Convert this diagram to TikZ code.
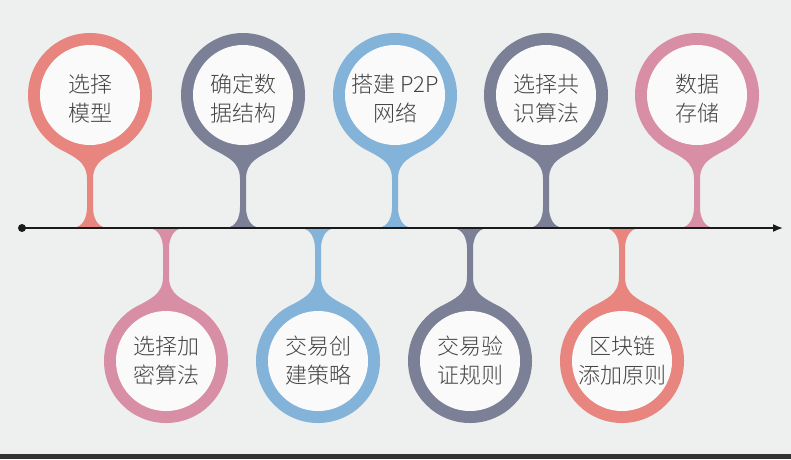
\documentclass[tikz,border=0pt]{standalone}
\usepackage{fontspec}
\newfontfamily\cjk{Noto Sans CJK SC}[UprightFont={* Light}]
\usetikzlibrary{arrows.meta}
\definecolor{bgcol}{HTML}{EEEFEF}
\definecolor{cSalmon}{HTML}{E8857F}
\definecolor{cSlate}{HTML}{7B8096}
\definecolor{cBlue}{HTML}{84B3DA}
\definecolor{cMauve}{HTML}{D88FA6}
\definecolor{holecol}{HTML}{FAFAFA}
\definecolor{txtcol}{HTML}{444444}
\definecolor{linecol}{HTML}{1A1A1A}
\definecolor{barcol}{HTML}{333333}
\newcommand\pinstem[1]{\fill[#1] (-26,56) .. controls (-17,62) and (-3,66) .. (-3,84) -- (-3,112) .. controls (-3,124) and (-8,131) .. (-15,133) -- (15,133) .. controls (8,131) and (3,124) .. (3,112) -- (3,84) .. controls (3,66) and (17,62) .. (26,56) -- cycle;}
\begin{document}
\begin{tikzpicture}[x=1pt,y=-1pt,
  ring/.style={circle,inner sep=0pt,minimum size=124pt,fill=#1},
  hole/.style={circle,inner sep=0pt,minimum size=100pt,fill=holecol},
  lbl/.style={align=center,font={\cjk\fontsize{22}{29}\selectfont},text=txtcol,inner sep=0pt}]
\fill[bgcol] (0,0) rectangle (791,459);
\useasboundingbox (0,0) rectangle (791,459);
\fill[barcol] (0,454) rectangle (791,459);
% upper pins
\foreach \n/\x/\c/\t in {u1/90/cSalmon/{选择\\模型},u2/243/cSlate/{确定数\\据结构},u3/395/cBlue/{搭建 P2P\\网络},u4/546/cSlate/{选择共\\识算法},u5/697/cMauve/{数据\\存储}}{
  \coordinate (p\n) at (\x,95);
  \begin{scope}[shift={(p\n)}]\pinstem{\c}\end{scope}
  \node[ring=\c] (\n) at (p\n) {};
  \node[hole] (h\n) at (\n) {};
  \node[lbl,yshift=-4pt] (t\n) at (h\n) {\t};
}
% lower pins
\foreach \n/\x/\c/\t in {d1/166/cMauve/{选择加\\密算法},d2/318/cBlue/{交易创\\建策略},d3/470/cSlate/{交易验\\证规则},d4/622/cSalmon/{区块链\\添加原则}}{
  \coordinate (p\n) at (\x,361);
  \begin{scope}[shift={(p\n)},yscale=-1]\pinstem{\c}\end{scope}
  \node[ring=\c] (\n) at (p\n) {};
  \node[hole] (h\n) at (\n) {};
  \node[lbl] (t\n) at (h\n) {\t};
}
% timeline
\node[circle,fill=linecol,inner sep=0pt,minimum size=8pt] (start) at (22,228) {};
\coordinate (end) at (783,228);
\draw[line width=1.6pt,linecol,-{Latex[length=10pt,width=8pt]}] (start.center) -- (end);
\end{tikzpicture}
\end{document}
